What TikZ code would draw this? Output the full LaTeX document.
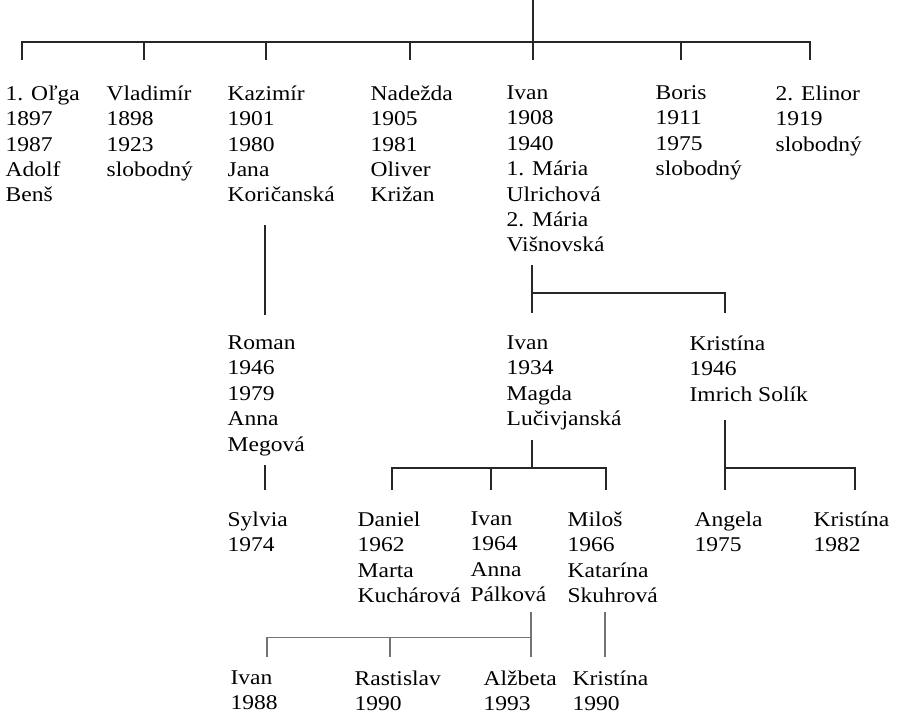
\documentclass[tikz,border=0pt]{standalone}
\usepackage{fontspec}
\setmainfont{Liberation Serif}[FakeStretch=1.12]
\begin{document}
\begin{tikzpicture}[x=1pt,y=-1pt,
  line width=1.3pt,
  txt/.style={anchor=north west, inner sep=0pt, align=left,
    font=\fontsize{21}{25.4}\selectfont,
    execute at begin node={\vrule width 0pt height 17pt depth 0pt}},
  conn/.style={draw=black!85},
  faint/.style={draw=black!55, line width=1.1pt}]
\useasboundingbox (0,0) rectangle (900,716);
% generation 1 (first baseline = y + 17)
\node[txt] (olga) at (5,85) {1. Oľga\\1897\\1987\\Adolf\\Benš};
\node[txt] (vlad) at (106,85) {Vladimír\\1898\\1923\\slobodný};
\node[txt] (kaz) at (227,85) {Kazimír\\1901\\1980\\Jana\\Koričanská};
\node[txt] (nad) at (370,85) {Nadežda\\1905\\1981\\Oliver\\Križan};
\node[txt] (ivan1) at (506,85) {Ivan\\1908\\1940\\1. Mária\\Ulrichová\\2. Mária\\Višnovská};
\node[txt] (boris) at (655,85) {Boris\\1911\\1975\\slobodný};
\node[txt] (elin) at (775,85) {2. Elinor\\1919\\slobodný};
% generation 2
\node[txt] (roman) at (227,335) {Roman\\1946\\1979\\Anna\\Megová};
\node[txt] (ivan2) at (506,335) {Ivan\\1934\\Magda\\Lučivjanská};
\node[txt] (kris1) at (689,335) {Kristína\\1946\\Imrich Solík};
% generation 3
\node[txt] (sylv) at (227,511) {Sylvia\\1974};
\node[txt] (dan) at (357,511) {Daniel\\1962\\Marta\\Kuchárová};
\node[txt] (ivan3) at (470,511) {Ivan\\1964\\Anna\\Pálková};
\node[txt] (milos) at (567,511) {Miloš\\1966\\Katarína\\Skuhrová};
\node[txt] (ang) at (694,511) {Angela\\1975};
\node[txt] (kris2) at (813,511) {Kristína\\1982};
% generation 4
\node[txt] (ivan4) at (230,670) {Ivan\\1988};
\node[txt] (rast) at (354,670) {Rastislav\\1990};
\node[txt] (alz) at (483,670) {Alžbeta\\1993};
\node[txt] (kris3) at (572,670) {Kristína\\1990};
% coordinates
\coordinate (root) at (533,0);
\coordinate (j0) at (533,42);
\coordinate (c1) at (22,60);
\coordinate (c2) at (144,60);
\coordinate (c3) at (266,60);
\coordinate (c4) at (410,60);
\coordinate (c5) at (533,60);
\coordinate (c6) at (681,60);
\coordinate (c7) at (810,60);
\coordinate (k1) at (265,225);
\coordinate (k2) at (265,315);
\coordinate (i1a) at (532,265);
\coordinate (i1j) at (532,293);
\coordinate (i1b) at (532,313);
\coordinate (i1c) at (725,313);
\coordinate (r1) at (265,465);
\coordinate (r2) at (265,490);
\coordinate (i2a) at (532,440);
\coordinate (i2j) at (532,468);
\coordinate (d1) at (392,490);
\coordinate (d2) at (491,490);
\coordinate (d3) at (606,490);
\coordinate (ka) at (725,420);
\coordinate (kj) at (725,468);
\coordinate (kb) at (725,490);
\coordinate (kc) at (855,490);
\coordinate (i3a) at (531,612);
\coordinate (i3j) at (531,637);
\coordinate (i3b) at (531,657);
\coordinate (g1) at (267,657);
\coordinate (g2) at (390,657);
\coordinate (m1) at (605,612);
\coordinate (m2) at (605,657);
% connectors
\draw[conn] (root) -- (c5);
\foreach \c in {c1,c2,c3,c4,c6,c7} \draw[conn] (j0) -| (\c);
\draw[conn] (k1) -- (k2);
\draw[conn] (i1a) -- (i1b);
\draw[conn] (i1j) -| (i1c);
\draw[conn] (r1) -- (r2);
\draw[conn] (i2a) -- (i2j);
\foreach \c in {d1,d2,d3} \draw[conn] (i2j) -| (\c);
\draw[conn] (ka) -- (kb);
\draw[conn] (kj) -| (kc);
\draw[faint] (i3a) -- (i3b);
\draw[faint, line width=0.8pt] (i3j) -- (267,637);
\draw[faint] (267,637) -- (g1);
\draw[faint] (390,637) -- (g2);
\draw[faint] (m1) -- (m2);
\end{tikzpicture}
\end{document}
